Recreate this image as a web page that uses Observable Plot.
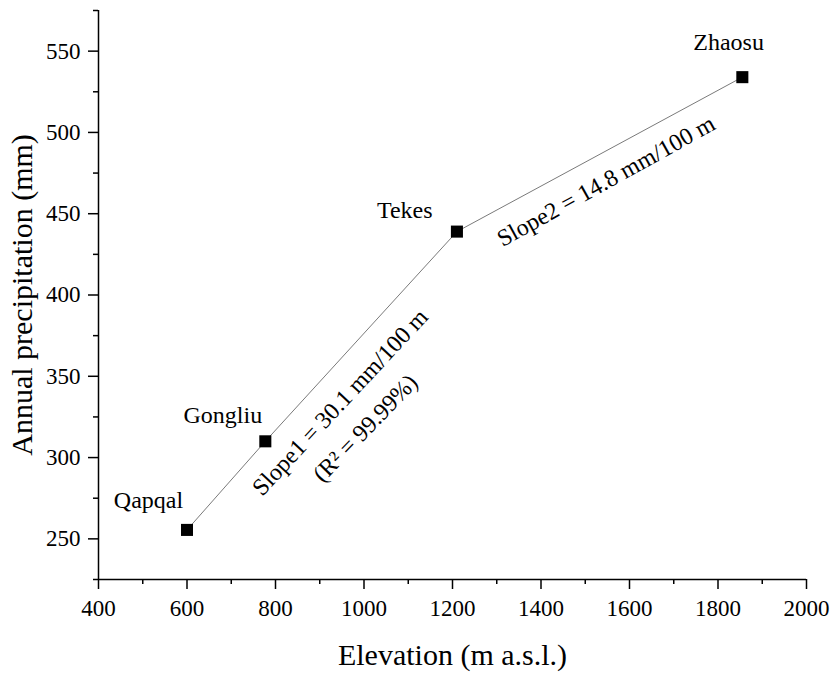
<!DOCTYPE html>
<html>
<head>
<meta charset="utf-8">
<script src="https://cdn.jsdelivr.net/npm/d3@7"></script>
<script src="https://cdn.jsdelivr.net/npm/@observablehq/plot@0.6"></script>
<style>
  html, body { margin: 0; padding: 0; background: #fff; }
  #chart svg { display: block; }
</style>
</head>
<body>
<div id="chart"></div>
<script>
// ---- data ----
const stations = ["Qapqal", "Gongliu", "Tekes", "Zhaosu"];
const elevation = [600, 777, 1210, 1855];          // m a.s.l.
const precipitation = [255.5, 310, 439, 534];      // mm

// station label anchors (data units)
const labelElev = [513, 681, 1092, 1824];
const labelPrecip = [274, 326, 452, 555.5];

// slope annotations
const annoText = ["Slope1 = 30.1 mm/100 m", "(R\u00B2 = 99.99%)", "Slope2 = 14.8 mm/100 m"];
const annoElev = [946, 1003, 1547];
const annoPrecip = [334, 318, 470];
const annoAngle = [-47, -46, -29];

// ticks
const xMajorTicks = [400, 600, 800, 1000, 1200, 1400, 1600, 1800, 2000];
const xMinorTicks = [500, 700, 900, 1100, 1300, 1500, 1700, 1900];
const yMajorTicks = [250, 300, 350, 400, 450, 500, 550];
const yMinorTicks = [225, 275, 325, 375, 425, 475, 525, 575];

const points = stations.map((s, i) => ({station: s, x: elevation[i], y: precipitation[i]}));
const labels = stations.map((s, i) => ({station: s, x: labelElev[i], y: labelPrecip[i]}));
const annos = annoText.map((t, i) => ({text: t, x: annoElev[i], y: annoPrecip[i], angle: annoAngle[i]}));

const font = "'Liberation Serif', 'Times New Roman', serif";

const chart = Plot.plot({
  width: 830,
  height: 673,
  marginLeft: 98,
  marginRight: 24,
  marginTop: 10,
  marginBottom: 94,
  style: {fontFamily: font, background: "#fff", color: "#000"},
  x: {domain: [400, 2000]},
  y: {domain: [225, 575]},
  marks: [
    Plot.axisX({ticks: xMajorTicks, tickSize: 10, tickPadding: 10, fontSize: 23, fontVariant: "normal", label: null, stroke: "#000", strokeWidth: 1.5, tickFormat: d => String(d)}),
    Plot.axisX({ticks: xMinorTicks, tickSize: 5, text: null, label: null, stroke: "#000", strokeWidth: 1.5}),
    Plot.axisY({ticks: yMajorTicks, tickSize: 10, tickPadding: 8, fontSize: 23, fontVariant: "normal", label: null, stroke: "#000", strokeWidth: 1.5}),
    Plot.axisY({ticks: yMinorTicks, tickSize: 5, text: null, label: null, stroke: "#000", strokeWidth: 1.5}),
    Plot.ruleX([400], {stroke: "#000", strokeWidth: 1.5}),
    Plot.ruleY([225], {stroke: "#000", strokeWidth: 1.5}),
    Plot.line(points, {x: "x", y: "y", stroke: "#7a7a7a", strokeWidth: 1}),
    Plot.dot(points, {x: "x", y: "y", symbol: "square", r: 6.8, fill: "#000", stroke: "none"}),
    Plot.text(labels, {x: "x", y: "y", text: "station", fontSize: 24, fill: "#000", textAnchor: "middle", lineAnchor: "middle"}),
    Plot.text(annos, {x: "x", y: "y", text: "text", rotate: "angle", fontSize: 24, fill: "#000", textAnchor: "middle", lineAnchor: "middle"}),
    Plot.text(["Elevation (m a.s.l.)"], {frameAnchor: "bottom", dy: 76, fontSize: 30, fill: "#000", textAnchor: "middle", lineAnchor: "middle"}),
    Plot.text(["Annual precipitation (mm)"], {frameAnchor: "left", dx: -76, rotate: -90, fontSize: 30, fill: "#000", textAnchor: "middle", lineAnchor: "middle"})
  ]
});
document.getElementById("chart").appendChild(chart);
</script>
</body>
</html>
